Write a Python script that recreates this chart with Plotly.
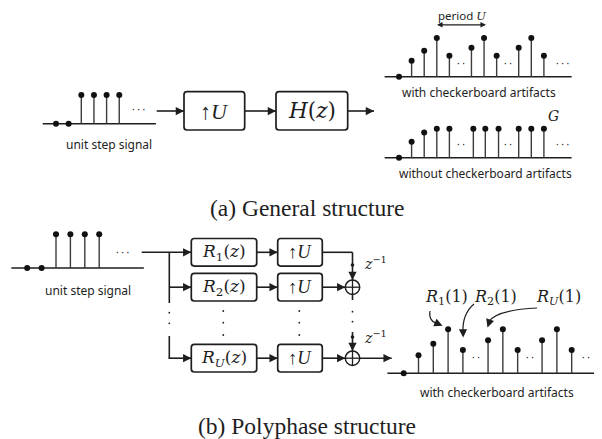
import plotly.graph_objects as go

W, H = 602, 439          # browser window
OX, OY = 8, 8            # page body margin: the figure starts at (8, 8) in the window
INK = "#1e1e1e"
STEM = "#3c3c3c"
SANS = "Noto Sans"
MATH = "DejaVu Serif"
TIMES = "Liberation Serif"

# ---------------- data (sample index, amplitude) ----------------
step_n = [-2, -1, 0, 1, 2, 3]
step_v = [0, 0, 1, 1, 1, 1]

checker_n = [0, 1, 2, 3, 4, 5.75, 6.75, 7.75, 9.5, 10.5, 11.5]
checker_v = [0, 0.41, 0.67, 1.0, 0.54, 0.75, 1.0, 0.54, 0.75, 1.0, 0.54]

smooth_n = [0, 1, 2, 3, 4, 5.9, 6.85, 7.9, 9.5, 10.5, 11.5]
smooth_v = [0, 0.41, 0.65, 0.75, 0.75, 0.75, 0.75, 0.75, 0.75, 0.75, 0.75]

poly_n = [0, 1, 2, 3, 4, 5.7, 6.7, 7.7, 9.35, 10.35, 11.35]
poly_v = [0, 0.41, 0.67, 1.0, 0.53, 0.75, 1.0, 0.53, 0.75, 1.0, 0.53]

# panel placement: n=0 position (px), px per sample, baseline (px from top), px per unit amplitude
panels = [
    dict(n=step_n, v=step_v, x0=81.3, dx=12.65, y0=123.7, dy=28.7, span=(-3.05, 5.9),
         dots=[(4.5, 0.5, "· · ·")]),
    dict(n=checker_n, v=checker_v, x0=399, dx=12.6, y0=76.7, dy=38.7, span=(-1.14, 13.7),
         dots=[(4.9, 0.36, "· ·"), (8.65, 0.36, "· ·"), (12.95, 0.36, "· · ·")]),
    dict(n=smooth_n, v=smooth_v, x0=399, dx=12.6, y0=157.7, dy=38.7, span=(-1.14, 13.7),
         dots=[(4.9, 0.36, "· ·"), (8.65, 0.36, "· ·"), (12.95, 0.36, "· · ·")]),
    dict(n=step_n, v=step_v, x0=56, dx=14.4, y0=268, dy=33.7, span=(-3.1, 6.1),
         dots=[(4.6, 0.47, "· · ·")]),
    dict(n=poly_n, v=poly_v, x0=403.7, dx=14.8, y0=373.3, dy=44, span=(-1.1, 13.5),
         dots=[(4.9, 0.37, "· ·"), (8.5, 0.37, "· ·"), (12.3, 0.37, "· ·")]),
]

fig = go.Figure()
annotations = []
shapes = []
axes = {}

for k, p in enumerate(panels, start=2):
    xa, ya = f"x{k}", f"y{k}"
    axes[f"xaxis{k}"] = dict(range=[(OX - p["x0"]) / p["dx"], (W - p["x0"]) / p["dx"]],
                             overlaying="x", visible=False, fixedrange=True)
    axes[f"yaxis{k}"] = dict(range=[-(H - p["y0"]) / p["dy"], (p["y0"] - OY) / p["dy"]],
                             overlaying="y", visible=False, fixedrange=True)
    fig.add_trace(go.Scatter(x=list(p["span"]), y=[0, 0], mode="lines", xaxis=xa, yaxis=ya,
                             line=dict(color=INK, width=1.6), hoverinfo="skip", showlegend=False))
    sx, sy = [], []
    for n, v in zip(p["n"], p["v"]):
        if v != 0:
            sx += [n, n, None]
            sy += [0, v, None]
    fig.add_trace(go.Scatter(x=sx, y=sy, mode="lines", xaxis=xa, yaxis=ya,
                             line=dict(color=STEM, width=1.4), hoverinfo="skip", showlegend=False))
    fig.add_trace(go.Scatter(x=p["n"], y=p["v"], mode="markers", xaxis=xa, yaxis=ya,
                             marker=dict(color="#111", size=6), hoverinfo="skip", showlegend=False))
    for (dn, dv, t) in p["dots"]:
        annotations.append(dict(x=dn, y=dv, xref=xa, yref=ya, text=t, showarrow=False,
                                font=dict(family=SANS, size=10, color=INK)))

# extra labels attached to the (a) output plots
annotations.append(dict(x=6.9, y=1.34, xref="x3", yref="y3", ax=2.9, ay=1.34, axref="x3", ayref="y3",
                        text="", showarrow=True, arrowhead=2, arrowside="end+start", arrowsize=1.0,
                        arrowwidth=1.1, arrowcolor=INK))
annotations.append(dict(x=4.98, y=1.57, xref="x3", yref="y3", showarrow=False,
                        text="period <span style='font-family:DejaVu Serif'><i>U</i></span>",
                        font=dict(family=SANS, size=11.5, color=INK)))
annotations.append(dict(x=12.3, y=1.07, xref="x4", yref="y4", showarrow=False, text="<i>G</i>",
                        font=dict(family=MATH, size=14, color=INK)))

# ---------------- helpers (pixel axes, window coordinates) ----------------
def line(x0, y0, x1, y1, w=1.6):
    shapes.append(dict(type="line", x0=x0, y0=y0, x1=x1, y1=y1, xref="x", yref="y",
                       line=dict(color=INK, width=w)))

def head(x0, y0, x1, y1):
    annotations.append(dict(x=x1, y=y1, ax=x0, ay=y0, xref="x", yref="y", axref="x", ayref="y",
                            text="", showarrow=True, arrowhead=2, arrowsize=1.1, arrowwidth=1.5,
                            arrowcolor=INK, standoff=0))

def arrow(x0, y0, x1, y1):
    line(x0, y0, x1, y1)
    dx, dy = x1 - x0, y1 - y0
    L = (dx * dx + dy * dy) ** 0.5
    head(x1 - 6 * dx / L, y1 - 6 * dy / L, x1, y1)

def rbox(x0, y0, x1, y1, r=3):
    path = (f"M{x0+r},{y0} L{x1-r},{y0} Q{x1},{y0} {x1},{y0+r} L{x1},{y1-r} Q{x1},{y1} {x1-r},{y1} "
            f"L{x0+r},{y1} Q{x0},{y1} {x0},{y1-r} L{x0},{y0+r} Q{x0},{y0} {x0+r},{y0} Z")
    shapes.append(dict(type="path", path=path, xref="x", yref="y", line=dict(color=INK, width=1.7)))

def text(x, y, t, size, family=SANS, **kw):
    annotations.append(dict(x=x, y=y, xref="x", yref="y", text=t, showarrow=False,
                            font=dict(family=family, size=size, color=INK), **kw))

def summer(cx, cy, r=7.2):
    shapes.append(dict(type="circle", x0=cx - r, x1=cx + r, y0=cy - r, y1=cy + r, xref="x", yref="y",
                       line=dict(color=INK, width=1.5)))
    line(cx - r, cy, cx + r, cy, 1.3)
    line(cx, cy - r, cx, cy + r, 1.3)

def dot(x, y, r=0.9):
    shapes.append(dict(type="circle", x0=x - r, x1=x + r, y0=y - r, y1=y + r,
                       xref="x", yref="y", fillcolor=INK, line=dict(width=0)))

def vdots(x, ys):
    for y in ys:
        dot(x, y)

# ---------------- (a) general structure ----------------
text(109, 144, "unit step signal", 12)
arrow(156.7, 111, 184, 111)
rbox(184, 91.7, 244.7, 130)
text(214.3, 111, "↑<i>U</i>", 22, TIMES)
arrow(244.7, 111, 276, 111)
rbox(276, 91.7, 347.7, 130)
text(312, 110, "<i>H</i>(<i>z</i>)", 21.5, MATH)
arrow(347.7, 111, 374, 111)
text(479, 92.3, "with checkerboard artifacts", 12)
text(485, 173.3, "without checkerboard artifacts", 12)
text(306.7, 207.5, "(a) General structure", 23.5, TIMES)

# ---------------- (b) polyphase structure ----------------
text(88.3, 290, "unit step signal", 12)
rows = [252.3, 287.2, 358.2]
subs = ["1", "2", "<i>U</i>"]
arrow(141.7, rows[0], 191.3, rows[0])
line(169.3, rows[0], 169.3, 303)
vdots(169.3, [312.7, 323.3])
line(169.3, 336, 169.3, rows[2])
arrow(169.3, rows[1], 191.3, rows[1])
arrow(168.5, rows[2], 191.3, rows[2])
for cy, s in zip(rows, subs):
    rbox(191.3, cy - 13.8, 256.7, cy + 13.8)
    text(224, cy, f"<i>R</i><sub>{s}</sub>(<i>z</i>)", 17, MATH)
    arrow(256.7, cy, 277.7, cy)
    rbox(277.7, cy - 13.8, 322.3, cy + 13.8)
    text(300, cy, "↑<i>U</i>", 18.5, TIMES)
vdots(223.3, [311, 322.7, 335])
vdots(299.3, [311, 322.7, 335])

SX = 352.5
line(322.3, rows[0], SX, rows[0])
arrow(SX, rows[0], SX, rows[1] - 7.2)
dot(SX, 265, 1.8)
arrow(322.3, rows[1], SX - 7.2, rows[1])
summer(SX, rows[1])
line(SX, rows[1] + 7.2, SX, 300)
vdots(SX, [311.7, 321.7])
arrow(SX, 332, SX, rows[2] - 7.2)
dot(SX, 337, 1.8)
arrow(322.3, rows[2], SX - 7.2, rows[2])
summer(SX, rows[2])
arrow(SX + 7.2, rows[2], 391.7, rows[2])
text(362, 263, "<i>z</i><sup>−1</sup>", 14, MATH, xanchor="left")
text(362, 337, "<i>z</i><sup>−1</sup>", 14, MATH, xanchor="left")

# labels with curved arrows on the polyphase output
text(446.7, 297.5, "<i>R</i><sub>1</sub>(1)", 16, MATH)
text(495.7, 297.5, "<i>R</i><sub>2</sub>(1)", 16, MATH)
text(558.3, 297.5, "<i>R</i><sub><i>U</i></sub>(1)", 16, MATH)
shapes.append(dict(type="path", path="M430,311 Q428,322 440,324.5", xref="x", yref="y",
                   line=dict(color=INK, width=1.2)))
head(436.5, 323.2, 442.5, 325.8)
shapes.append(dict(type="path", path="M474,304 Q462,314 463,333", xref="x", yref="y",
                   line=dict(color=INK, width=1.2)))
head(463, 330, 463.2, 337.5)
shapes.append(dict(type="path", path="M537,308 Q496,310 488.5,322", xref="x", yref="y",
                   line=dict(color=INK, width=1.2)))
head(490, 320, 487.5, 327.5)
text(496.7, 392.3, "with checkerboard artifacts", 12)
text(306.5, 426, "(b) Polyphase structure", 23.5, TIMES)

fig.update_layout(
    width=W - OX, height=H - OY, margin=dict(l=0, r=0, t=0, b=0),
    paper_bgcolor="white", plot_bgcolor="rgba(0,0,0,0)",
    xaxis=dict(range=[OX, W], visible=False, fixedrange=True),
    yaxis=dict(range=[H, OY], visible=False, fixedrange=True),
    shapes=shapes, annotations=annotations, showlegend=False,
    **axes,
)
fig.write_html("out.html")
